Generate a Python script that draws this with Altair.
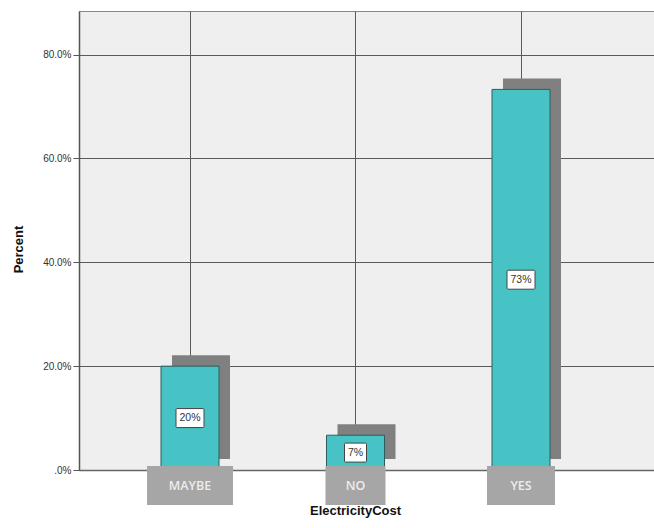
import altair as alt
import pandas as pd

# Survey answers and their share of respondents
categories = ["MAYBE", "NO", "YES"]
percents = [20.0, 6.7, 73.3]
value_labels = ["20%", "7%", "73%"]
y_ticks = [0, 20, 40, 60, 80]

df = pd.DataFrame({"cat": categories, "pct": percents, "label": value_labels})

FONT = "Liberation Sans"
BAR_W = 58

x_enc = alt.X(
    "cat:N",
    sort=categories,
    scale=alt.Scale(paddingInner=0, paddingOuter=0.2372, align=0.36),
    axis=alt.Axis(
        title="ElectricityCost",
        labels=False,
        ticks=False,
        grid=True,
        gridColor="#5a5a5a",
        gridWidth=1,
        domainColor="#666666",
        domainWidth=1.5,
        titleFont=FONT,
        titleFontSize=13,
        titleFontWeight="bold",
        titleColor="#111111",
        titleX=276,
        titleY=44,
        titleBaseline="alphabetic",
    ),
)

y_enc = alt.Y(
    "pct:Q",
    scale=alt.Scale(domain=[0, 88.4], nice=False, zero=True),
    axis=alt.Axis(
        title="Percent",
        values=y_ticks,
        labelExpr="datum.value == 0 ? '.0%' : format(datum.value, '.1f') + '%'",
        labelFont=FONT,
        labelFontSize=10,
        labelColor="#333333",
        labelPadding=2,
        tickSize=6,
        tickColor="#555555",
        domainColor="#555555",
        domainWidth=1.5,
        grid=True,
        gridColor="#5a5a5a",
        gridWidth=1,
        titleFont=FONT,
        titleFontSize=13,
        titleFontWeight="bold",
        titleColor="#111111",
        titleX=-61,
        titleY=238,
        titleAngle=270,
        titleBaseline="middle",
    ),
)

base = alt.Chart(df)

# Drop shadow behind each bar
shadow = base.mark_bar(
    size=BAR_W, color="#808080", xOffset=11, yOffset=-11, y2Offset=-11
).encode(x=x_enc, y=y_enc)

bars = base.mark_bar(
    size=BAR_W, color="#48c3c5", stroke="#2e5c5d", strokeWidth=1
).encode(x=x_enc, y=y_enc)

# Value labels in small white boxes at mid-height of each bar
mid = base.transform_calculate(mid="datum.pct / 2")
label_box = mid.mark_rect(
    fill="white",
    stroke="#444444",
    strokeWidth=1,
    cornerRadius=1,
    width={"expr": "6 * length(datum.label) + 10"},
    height=19,
).encode(x=alt.X("cat:N", sort=categories), y="mid:Q")
label_text = mid.mark_text(
    font=FONT, fontSize=10.5, color="#333333", baseline="middle"
).encode(x=alt.X("cat:N", sort=categories), y="mid:Q", text="label:N")

# Category names in grey boxes under the baseline
cat_box = base.mark_rect(
    fill="#a6a6a6",
    width={"expr": "max(60, 9 * length(datum.cat) + 41)"},
    height=39,
    yOffset=15.5,
).encode(x=alt.X("cat:N", sort=categories), y=alt.datum(0))
cat_text = base.mark_text(
    font="Open Sans", fontSize=12.5, fontWeight=600, color="#ededed",
    baseline="middle", yOffset=16
).encode(x=alt.X("cat:N", sort=categories), y=alt.datum(0), text="cat:N")

chart = (
    alt.layer(shadow, bars, label_box, label_text, cat_box, cat_text)
    .properties(
        width=575,
        height=459,
        autosize=alt.AutoSizeParams(type="none"),
        padding={"left": 79, "top": 11, "right": 0, "bottom": 58},
        background="white",
    )
    .configure_view(fill="#efefef", stroke="#888888", strokeWidth=1)
)

chart.save("out.html", embed_options={"renderer": "svg", "actions": False})
